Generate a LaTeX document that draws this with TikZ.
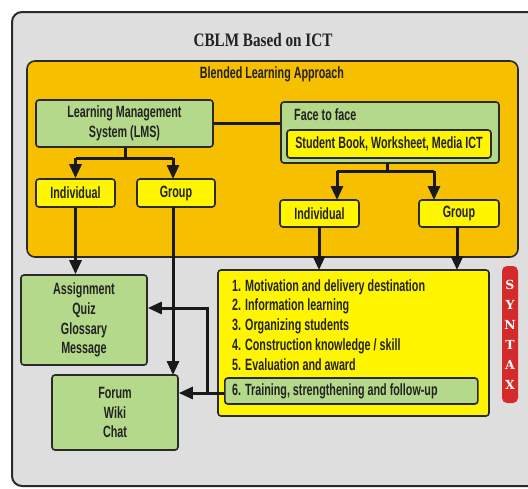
\documentclass[tikz,border=0pt]{standalone}
\usepackage{fontspec}
\setmainfont{Liberation Sans}[FakeStretch=0.66]
\newfontfamily\titlefont{Liberation Serif}[FakeStretch=0.8]
\newfontfamily\slabfont{DejaVu Serif}
\usetikzlibrary{arrows.meta}
\definecolor{bgGray}{HTML}{DEDEDE}
\definecolor{orangeBox}{HTML}{F6BF00}
\definecolor{greenBox}{HTML}{B5D98A}
\definecolor{yellowBox}{HTML}{FFF500}
\definecolor{redBox}{HTML}{D42A2A}
\definecolor{edge}{HTML}{2A2A2A}
\definecolor{txt}{HTML}{222222}
\tikzset{
  boxbase/.style={draw=edge, line width=1.6pt, rounded corners=3pt, inner sep=0pt,
    text=txt, font=\fontsize{16.3}{19.8}\selectfont\bfseries, align=center},
  greenbox/.style={boxbase, fill=greenBox},
  yellowbox/.style={boxbase, fill=yellowBox},
  conn/.style={draw=black!90, line width=3pt},
  arr/.style={conn, -{Triangle[length=14pt,width=12pt]}},
  lbl/.style={text=txt, font=\fontsize{16.3}{19.8}\selectfont\bfseries, inner sep=0pt}
}
\begin{document}
\begin{tikzpicture}[x=1pt,y=-1pt]
\useasboundingbox (0,0) rectangle (528,488);
\clip (0,0) rectangle (528,488);
% outer frame
\draw[line width=2pt, draw=edge, fill=bgGray, rounded corners=10pt] (12,12) rectangle (570,486);
\node[text=txt, font=\titlefont\fontsize{19}{20}\selectfont\bfseries, inner sep=0pt] (title) at (263,40) {CBLM Based on ICT};
% orange box
\draw[line width=1.6pt, draw=edge, fill=orangeBox, rounded corners=8pt] (27,61) rectangle (518,257);
\node[lbl] (bla) at (272,74) {Blended Learning Approach};
% LMS branch
\node[greenbox, minimum width=177pt, minimum height=47pt] (lms) at (124.5,123.5) {Learning Management\\System (LMS)};
\node[yellowbox, minimum width=79pt, minimum height=28pt] (ind1) at (75.5,193) {Individual};
\node[yellowbox, minimum width=78pt, minimum height=28pt] (grp1) at (176,193) {Group};
% Face to face
\node[greenbox, minimum width=218pt, minimum height=61pt] (f2f) at (390,132.5) {};
\node[lbl, anchor=west] (f2ft) at (294,115) {Face to face};
\node[yellowbox, minimum width=204pt, minimum height=28pt] (media) at (389,144) {Student Book, Worksheet, Media ICT};
\node[yellowbox, minimum width=79pt, minimum height=27pt] (ind2) at (319.5,213.5) {Individual};
\node[yellowbox, minimum width=80pt, minimum height=27pt] (grp2) at (459,213.5) {Group};
% lower boxes
\node[greenbox, minimum width=126pt, minimum height=90pt] (assign) at (84,320) {Assignment\\Quiz\\Glossary\\Message};
\node[greenbox, minimum width=126pt, minimum height=75pt] (forum) at (115,412.5) {Forum\\Wiki\\Chat};
\node[yellowbox, minimum width=271pt, minimum height=146pt] (steps) at (353.5,343) {};
\node[lbl, anchor=north west, align=left] (list) at (232,279) {1. Motivation and delivery destination\\2. Information learning\\3. Organizing students\\4. Construction knowledge / skill\\5. Evaluation and award};
\node[greenbox, minimum width=253pt, minimum height=26pt, anchor=west] (item6) at (224,391) {};
\node[lbl, anchor=west] (item6t) at (232,391) {6. Training, strengthening and follow-up};
% SYNTAX
\node[fill=redBox, rounded corners=5pt, minimum width=16pt, minimum height=137pt, inner sep=0pt] (syn) at (510,334.5) {};
\node[text=white, font=\slabfont\fontsize{12.5}{20}\selectfont\bfseries, align=center, inner sep=0pt] (syntxt) at (510,335) {S\\Y\\N\\T\\A\\X};
% connectors
\draw[conn] (lms.east) -- (f2f.west |- lms.east);
\coordinate (lmsj) at (125,158);
\draw[conn] (lms.south -| lmsj) -- (lmsj);
\draw[arr] (lmsj -| ind1.north) -- (ind1.north);
\draw[arr] (lmsj -| 173,0) -- (173,179);
\draw[conn] (ind1.north |- lmsj) -- (173,158);
\coordinate (f2fj) at (387,171);
\draw[conn] (387,163) -- (f2fj);
\draw[conn] (337,171) -- (434,171);
\draw[arr] (337,171) -- (337,200);
\draw[arr] (434,171) -- (434,200);
\draw[arr] (ind1.south) -- (ind1.south |- assign.north);
\draw[arr] (173,207) -- (173,375);
\draw[arr] (319,227) -- (319,270);
\draw[arr] (457,227) -- (457,270);
\coordinate (br) at (207,393);
\draw[arr] (item6.west |- br) -- (br -| forum.east);
\draw[arr] (br) -- (207,308) -- (assign.east |- 0,308);
\end{tikzpicture}
\end{document}
